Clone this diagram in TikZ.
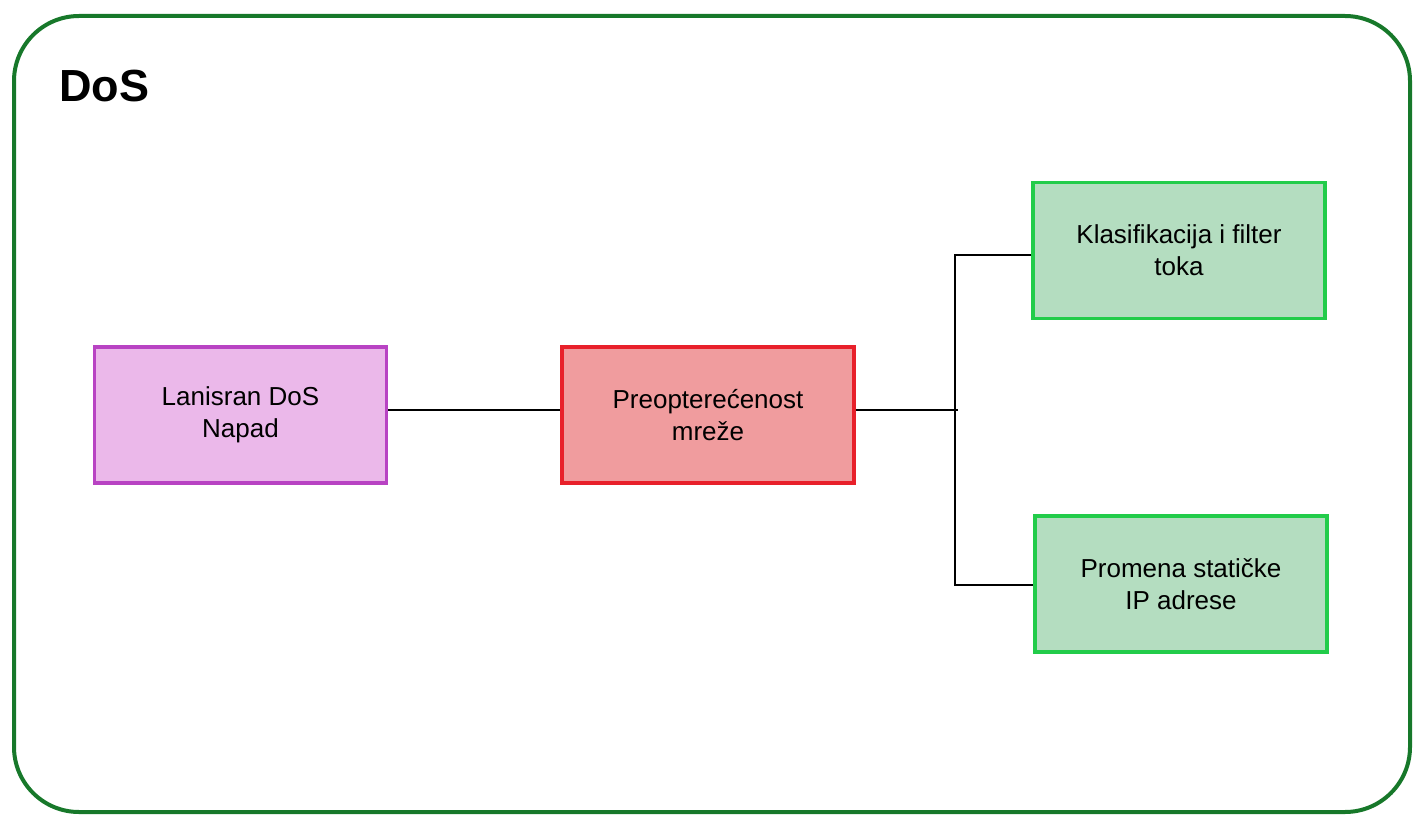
\documentclass[tikz,border=0pt]{standalone}
\usepackage{fontspec}
\setmainfont{Liberation Sans}
\definecolor{framegreen}{HTML}{17782A}
\definecolor{purpleline}{HTML}{B843C3}
\definecolor{purplefill}{HTML}{EBB8EA}
\definecolor{redline}{HTML}{E8202A}
\definecolor{redfill}{HTML}{F09C9E}
\definecolor{greenline}{HTML}{22CC4A}
\definecolor{greenfill}{HTML}{B4DDC0}
\begin{document}
\begin{tikzpicture}[x=1pt,y=-1pt,
  boxbase/.style={draw, rectangle, line width=3.5pt, minimum width=292pt, minimum height=136pt,
    align=center, inner sep=0pt, font=\fontsize{26}{32}\selectfont},
  purplebox/.style={boxbase, draw=purpleline, fill=purplefill},
  redbox/.style={boxbase, draw=redline, fill=redfill},
  greenbox/.style={boxbase, draw=greenline, fill=greenfill},
  conn/.style={draw=black, line width=2.5pt}]
\useasboundingbox (0,0) rectangle (1424,826);
\draw[framegreen, line width=4pt, rounded corners=65pt] (14,16) rectangle (1410,812);
\node[anchor=base west, font=\fontsize{45}{54}\selectfont\bfseries, inner sep=0pt] (title) at (59,102) {DoS};
\node[purplebox] (lan) at (240.5,415) {Lanisran DoS\\Napad};
\node[redbox] (pre) at (708,415) {Preopterećenost\\mreže};
\node[greenbox] (kla) at (1179,250.5) {Klasifikacija i filter\\toka};
\node[greenbox] (pro) at (1181,584) {Promena statičke\\IP adrese};
\coordinate (j) at (958,410);
\coordinate (j1) at (955,255);
\coordinate (j2) at (955,585);
\draw[conn] (lan.east |- j) -- (pre.west |- j);
\draw[conn] (pre.east |- j) -- (j);
\draw[conn] (j1 -| kla.west) -- (j1) -- (j2) -- (j2 -| pro.west);
\end{tikzpicture}
\end{document}
